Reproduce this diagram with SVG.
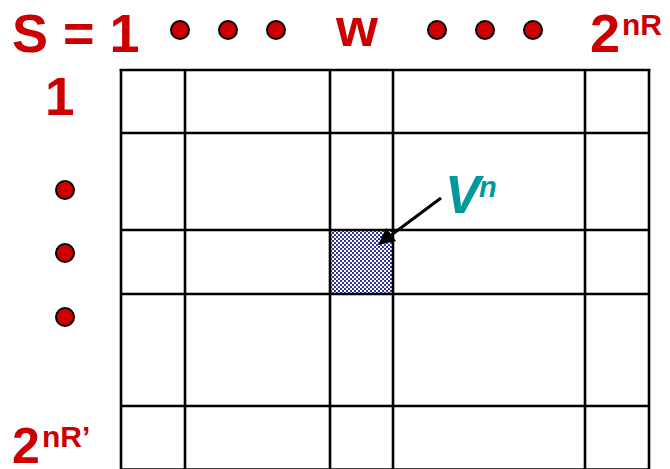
<svg xmlns="http://www.w3.org/2000/svg" width="670" height="469" viewBox="0 0 670 469">
<style>
.red{fill:#CC0000;font-family:"Liberation Sans",Arial,sans-serif;font-weight:bold}
.dot{fill:#CC0000;stroke:#000;stroke-width:2}
.grid line{stroke:#000;stroke-width:2.6}
.teal{fill:#009999;font-family:"Liberation Sans",Arial,sans-serif;font-weight:bold;font-style:italic}
</style>
<defs>
<pattern id="chk" width="4" height="4" patternUnits="userSpaceOnUse" x="330" y="230">
<rect width="4" height="4" fill="#fff"/>
<rect width="2" height="2" fill="#333399"/>
<rect x="2" y="2" width="2" height="2" fill="#333399"/>
</pattern>
</defs>
<rect width="670" height="469" fill="#fff"/>
<g id="cell">
<rect x="330" y="230" width="63" height="64" fill="url(#chk)"/>
</g>
<g id="grid" class="grid">
<line x1="121" y1="69" x2="121" y2="469"/>
<line x1="185" y1="69" x2="185" y2="469"/>
<line x1="330" y1="69" x2="330" y2="469"/>
<line x1="393" y1="69" x2="393" y2="469"/>
<line x1="585" y1="69" x2="585" y2="469"/>
<line x1="649" y1="69" x2="649" y2="469"/>
<line x1="119.7" y1="70" x2="650.3" y2="70"/>
<line x1="121" y1="133" x2="649" y2="133"/>
<line x1="121" y1="230" x2="649" y2="230"/>
<line x1="121" y1="294" x2="649" y2="294"/>
<line x1="121" y1="406" x2="649" y2="406"/>
<line x1="121" y1="469.5" x2="649" y2="469.5"/>
</g>
<g id="labels-top">
<text class="red" x="12" y="52" font-size="54">S = 1</text>
<text class="red" x="336" y="46" font-size="54">w</text>
<text class="red" x="590" y="52" font-size="54">2</text>
<text class="red" x="622" y="35" font-size="30">nR</text>
</g>
<g id="dots-top">
<circle class="dot" cx="180" cy="30" r="9"/>
<circle class="dot" cx="228" cy="30" r="9"/>
<circle class="dot" cx="276" cy="30" r="9"/>
<circle class="dot" cx="437" cy="30" r="9"/>
<circle class="dot" cx="485" cy="30" r="9"/>
<circle class="dot" cx="533" cy="30" r="9"/>
</g>
<g id="labels-left">
<text class="red" x="45" y="115" font-size="53">1</text>
<text class="red" x="12" y="463" font-size="50">2</text>
<text class="red" x="42" y="447" font-size="30">nR’</text>
</g>
<g id="dots-left">
<circle class="dot" cx="65" cy="190" r="9"/>
<circle class="dot" cx="65" cy="253" r="9"/>
<circle class="dot" cx="65" cy="317" r="9"/>
</g>
<g id="vn">
<text class="teal" x="445" y="213" font-size="53">V</text>
<text class="teal" x="479" y="197" font-size="29">n</text>
</g>
<g id="connectors">
<line x1="441" y1="198" x2="390" y2="236" stroke="#000" stroke-width="3"/>
<polygon points="378,245 386,228 396,241" fill="#000"/>
</g>
</svg>
